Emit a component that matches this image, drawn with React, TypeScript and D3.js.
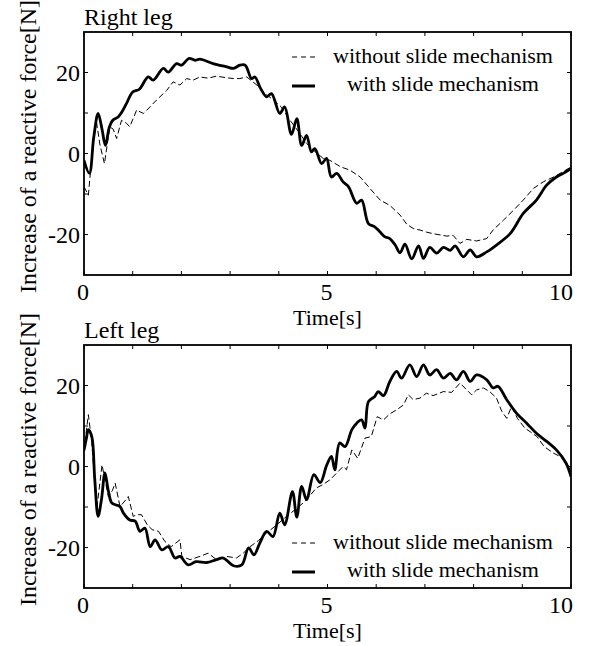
import React from "react";
import * as d3 from "d3";

type Pt = [number, number];

// time [s], increase of reactive force [N]
const rightWithout: Pt[] = [
  [0, -8.2], [0.09, -10.3], [0.19, 3.3], [0.26, 7.5], [0.33, 2], [0.42, -2.5], [0.53, 6.6], [0.6, 6.0],
  [0.67, 3.7], [0.77, 8.2], [0.87, 7.5], [0.94, 6.6], [1.08, 10.7], [1.22, 9.9], [1.29, 10.7], [1.49, 13.2],
  [1.56, 14], [1.7, 15.6], [1.83, 17.7], [1.97, 16.9], [2.11, 18.5], [2.24, 18.1], [2.38, 18.9], [2.55, 18.6],
  [2.72, 19.1], [2.93, 18.7], [3.07, 18.5], [3.2, 18.5], [3.34, 18.9], [3.55, 16.9], [3.75, 14.5], [3.89, 13.2],
  [4.05, 11.5], [4.23, 8.2], [4.4, 5.5], [4.57, 2.5], [4.74, 0.5], [4.91, -1.2], [5.05, -1.7], [5.27, -3.3],
  [5.46, -4.1], [5.67, -5.8], [5.87, -8.6], [6.08, -11.5], [6.28, -12.8], [6.49, -15.2], [6.63, -17.5],
  [6.76, -18.5], [6.9, -18.9], [7.03, -19.4], [7.17, -19.8], [7.31, -20.1], [7.45, -20.4], [7.58, -20.2],
  [7.72, -22.2], [7.86, -21.2], [8.06, -21.6], [8.27, -21], [8.4, -18.9], [8.61, -16.5], [8.82, -14],
  [9.02, -11.5], [9.23, -8.6], [9.43, -7], [9.64, -5.8], [9.84, -4.5], [10, -3.3],
];

const rightWith: Pt[] = [
  [0, -1.7], [0.11, -4.9], [0.2, 4], [0.29, 9.9], [0.37, 6], [0.44, 2], [0.52, 6.5], [0.59, 8.2], [0.7, 9],
  [0.78, 10.3], [0.87, 12.3], [1.0, 15.2], [1.13, 15.8], [1.32, 18.9], [1.42, 18.1], [1.63, 21], [1.73, 20.1],
  [1.9, 22.2], [2.0, 21.8], [2.16, 23.5], [2.28, 23], [2.38, 23.3], [2.65, 22.2], [2.93, 21.4], [3.07, 21],
  [3.2, 21.8], [3.31, 21.8], [3.44, 18.5], [3.51, 18.9], [3.62, 16.2], [3.75, 14], [3.85, 14.8], [4.02, 9.9],
  [4.12, 11.5], [4.26, 4.7], [4.37, 8.6], [4.47, 2.0], [4.57, 4.5], [4.67, 0.4], [4.74, 1.2], [4.88, -2.5],
  [4.98, -1.2], [5.08, -5.8], [5.19, -4.9], [5.32, -7.0], [5.43, -8.2], [5.6, -12.3], [5.7, -11.5],
  [5.84, -17.3], [5.97, -18.1], [6.08, -19.4], [6.18, -20.6], [6.28, -21], [6.39, -22.6], [6.49, -24.5],
  [6.59, -22.4], [6.73, -26], [6.87, -22.8], [6.97, -25.9], [7.1, -23.2], [7.24, -24.6], [7.38, -23.2],
  [7.52, -23.9], [7.62, -22.8], [7.79, -25.5], [7.93, -23.8], [8.06, -25.5], [8.27, -24.3], [8.47, -22.6],
  [8.75, -19.8], [9.02, -14.8], [9.29, -11.5], [9.5, -7.8], [9.7, -5.8], [9.84, -4.9], [10, -3.7],
];

const leftWithout: Pt[] = [
  [0, 3.7], [0.05, 9], [0.09, 12.8], [0.16, 6], [0.26, -10.7], [0.37, 0.4], [0.5, -7.4], [0.58, -6],
  [0.64, -4.1], [0.74, -9.9], [0.84, -8.5], [0.91, -7.4], [1.01, -12.3], [1.1, -11.9], [1.18, -11.9],
  [1.3, -14.4], [1.4, -15.6], [1.53, -16], [1.66, -18.5], [1.79, -19.8], [1.97, -18.1], [2.01, -22.2],
  [2.18, -23], [2.38, -22.2], [2.55, -21.4], [2.72, -23], [2.93, -22.2], [3.13, -22.6], [3.27, -21.4],
  [3.41, -19.8], [3.58, -18.3], [3.75, -16.4], [3.95, -14.5], [4.16, -12.3], [4.35, -10.5], [4.55, -8.5],
  [4.77, -5.3], [4.9, -4.5], [5.05, -3.3], [5.19, -1.6], [5.32, 0], [5.39, -0.8], [5.5, 4.1], [5.62, 2.0],
  [5.77, 7], [5.9, 7.4], [6.02, 12.3], [6.15, 11.5], [6.28, 13], [6.42, 14], [6.56, 15.2], [6.66, 17.7],
  [6.76, 16.5], [6.9, 16.9], [7.03, 18.1], [7.17, 17.5], [7.38, 18.5], [7.55, 18.3], [7.72, 20.6],
  [7.86, 18.9], [7.96, 17.7], [8.06, 18.9], [8.2, 19.4], [8.33, 18.5], [8.47, 16.9], [8.58, 13.6],
  [8.68, 11.9], [8.78, 14.8], [8.9, 11.9], [9.05, 9.5], [9.16, 8.6], [9.3, 7.4], [9.45, 4.9], [9.64, 3.3],
  [9.77, 2.5], [9.9, 1.2], [10, -1.6],
];

const leftWith: Pt[] = [
  [0, 4], [0.05, 7], [0.09, 9.1], [0.16, 7.4], [0.22, -3], [0.29, -12.3], [0.36, -8], [0.43, -1.6],
  [0.5, -6], [0.57, -9], [0.66, -9.5], [0.74, -9.9], [0.81, -11.5], [0.94, -13.2], [1.05, -13.5],
  [1.15, -16], [1.25, -15.2], [1.36, -19.8], [1.46, -18.1], [1.6, -20.6], [1.73, -19.8], [1.87, -22.6],
  [1.97, -22.2], [2.14, -24.3], [2.3, -23.5], [2.52, -23.7], [2.72, -23], [2.86, -22.6], [3.07, -24.5],
  [3.24, -24.3], [3.38, -20.1], [3.49, -21.8], [3.61, -18.9], [3.75, -16], [3.88, -17.3], [4.02, -11.5],
  [4.12, -14.4], [4.28, -6.2], [4.37, -12.5], [4.47, -4.9], [4.57, -8.2], [4.72, -2.0], [4.85, -4.0],
  [4.98, 0.2], [5.08, 2.5], [5.15, -0.8], [5.25, 5.8], [5.36, 4.9], [5.5, 9.1], [5.6, 10.7], [5.7, 11.5],
  [5.77, 9.5], [5.84, 16], [5.97, 17.3], [6.04, 18.5], [6.15, 17.5], [6.28, 21], [6.42, 23.5], [6.52, 21.8],
  [6.69, 25.1], [6.83, 22.2], [6.97, 25.1], [7.1, 22.6], [7.24, 23.9], [7.38, 21.8], [7.52, 23], [7.65, 21.4],
  [7.79, 23.5], [7.93, 21], [8.06, 22.6], [8.27, 21.4], [8.4, 19.4], [8.5, 19.8], [8.68, 16.5], [8.88, 13.2],
  [9.09, 10.7], [9.29, 8.2], [9.5, 6.2], [9.7, 4.1], [9.9, 0.8], [10, -2.5],
];

const xTicks = [0, 1, 2, 3, 4, 5, 6, 7, 8, 9, 10];
const xLabels = [0, 5, 10];
const yTicks = [-20, -10, 0, 10, 20];
const yLabels = [-20, 0, 20];
const seriesNames = ["without slide mechanism", "with slide mechanism"];

const FONT = "Liberation Serif, serif";

function Panel({ top, title, without, withSlide, legendAt }: {
  top: number; title: string; without: Pt[]; withSlide: Pt[]; legendAt: number;
}) {
  const left = 84, right = 571, bottom = top + 243;
  const x = d3.scaleLinear().domain([0, 10]).range([left, right]);
  const y = d3.scaleLinear().domain([-30, 30]).range([bottom, top]);
  const lineJag = d3.line<Pt>().x(d => x(d[0])).y(d => y(d[1]));
  const lineSmooth = d3.line<Pt>().x(d => x(d[0])).y(d => y(d[1])).curve(d3.curveCatmullRom.alpha(0.5));
  const tk = 4;

  return (
    <g>
      <text x={left} y={top - 7} fontSize={24}>{title}</text>
      <defs>
        <clipPath id={`clip${top}`}>
          <rect x={left} y={top} width={right - left} height={bottom - top} />
        </clipPath>
      </defs>
      <g clipPath={`url(#clip${top})`}>
        <path d={lineJag(without) || ""} fill="none" stroke="#000" strokeWidth={1} strokeDasharray="6,3" />
        <path d={lineSmooth(withSlide) || ""} fill="none" stroke="#000" strokeWidth={2.8} strokeLinejoin="round" />
      </g>
      {xTicks.map(t => (
        <g key={"x" + t}>
          <line x1={x(t)} x2={x(t)} y1={bottom} y2={bottom - tk} stroke="#000" strokeWidth={1} />
          <line x1={x(t)} x2={x(t)} y1={top} y2={top + tk} stroke="#000" strokeWidth={1} />
        </g>
      ))}
      {yTicks.map(v => (
        <g key={"y" + v}>
          <line x1={left} x2={left + tk} y1={y(v)} y2={y(v)} stroke="#000" strokeWidth={1} />
          <line x1={right} x2={right - tk} y1={y(v)} y2={y(v)} stroke="#000" strokeWidth={1} />
        </g>
      ))}
      <rect x={left} y={top} width={right - left} height={bottom - top} fill="none" stroke="#000" strokeWidth={1.8} />
      {xLabels.map(t => (
        <text key={"xl" + t} x={t === 10 ? x(t) + 2 : x(t) - 1} y={bottom + 25} fontSize={24}
          textAnchor={t === 10 ? "end" : "middle"}>{t}</text>
      ))}
      {yLabels.map(v => (
        <text key={"yl" + v} x={left - 4} y={y(v)} dy="0.35em" fontSize={24} textAnchor="end">{v}</text>
      ))}
      <text x={(left + right) / 2} y={bottom + 50} fontSize={22} textAnchor="middle">Time[s]</text>
      <text transform={`translate(36,${(top + bottom) / 2 - 7}) rotate(-90)`} fontSize={24}
        textAnchor="middle">Increase of a reactive force[N]</text>
      <line x1={292} x2={317} y1={legendAt - 6} y2={legendAt - 6} stroke="#000" strokeWidth={1} strokeDasharray="5,4" />
      <text x={443} y={legendAt} fontSize={22} textAnchor="middle">{seriesNames[0]}</text>
      <line x1={292} x2={315} y1={legendAt + 23} y2={legendAt + 23} stroke="#000" strokeWidth={3} />
      <text x={443} y={legendAt + 28} fontSize={22} textAnchor="middle">{seriesNames[1]}</text>
    </g>
  );
}

export default function App() {
  return (
    <svg width={594} height={646} fontFamily={FONT}
      style={{ position: "absolute", left: 0, top: 0, background: "#fff" }}>
      <Panel top={32} title="Right leg" without={rightWithout} withSlide={rightWith} legendAt={63} />
      <Panel top={345} title="Left leg" without={leftWithout} withSlide={leftWith} legendAt={549} />
    </svg>
  );
}
